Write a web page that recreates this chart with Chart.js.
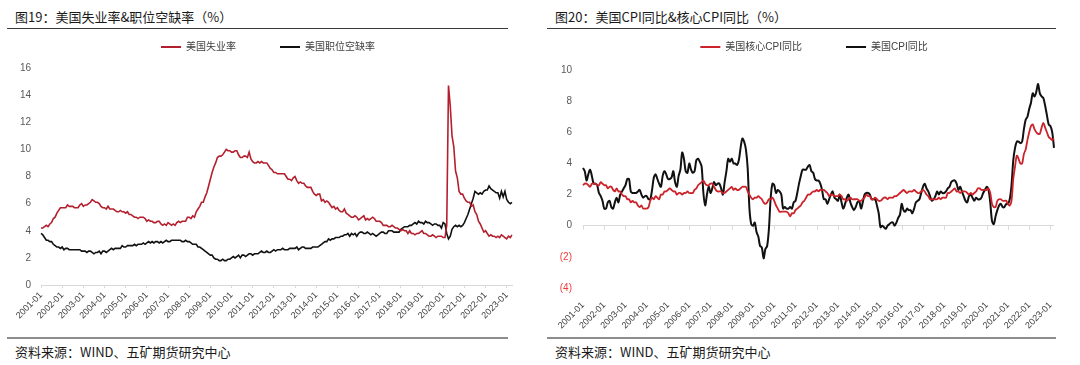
<!DOCTYPE html>
<html>
<head>
<meta charset="utf-8">
<script src="https://cdn.jsdelivr.net/npm/chart.js@4.4.1/dist/chart.umd.min.js"></script>
<style>
  html, body { margin: 0; padding: 0; background: #fff; }
  body { width: 1080px; height: 365px; position: relative; overflow: hidden;
         font-family: "Noto Sans CJK SC", "Liberation Sans", sans-serif; }
  .title { position: absolute; top: 8px; font-size: 13px; color: #1a1a1a; line-height: 18px; white-space: nowrap; }
  .foot { position: absolute; top: 343px; font-size: 13px; color: #1a1a1a; line-height: 18px; white-space: nowrap; }
  .rule-top { position: absolute; top: 28px; height: 0; border-top: 1.5px solid #3a3a3a; }
  .rule-bot { position: absolute; top: 337px; height: 0; border-top: 2px solid #8c8c8c; }
  .wrap { position: absolute; top: -2px; width: 540px; height: 335px; }
</style>
</head>
<body>
<div class="title" style="left:15px">图19：美国失业率&amp;职位空缺率（%）</div>
<div class="title" style="left:555px">图20：美国CPI同比&amp;核心CPI同比（%）</div>
<div class="rule-top" style="left:7px;width:501px"></div>
<div class="rule-top" style="left:547px;width:509px"></div>
<div class="wrap" style="left:0"><canvas id="c1"></canvas></div>
<div class="wrap" style="left:540px"><canvas id="c2"></canvas></div>
<div class="rule-bot" style="left:7px;width:501px"></div>
<div class="rule-bot" style="left:547px;width:509px"></div>
<div class="foot" style="left:15px">资料来源：WIND、五矿期货研究中心</div>
<div class="foot" style="left:555px">资料来源：WIND、五矿期货研究中心</div>
<script>
// ---------- categories ----------
function monthLabels(y0, y1, lastMonth) {
  const out = [];
  for (let y = y0; y <= y1; y++) {
    const mEnd = (y === y1) ? lastMonth : 12;
    for (let m = 1; m <= mEnd; m++) out.push(y + '-' + (m < 10 ? '0' + m : m));
  }
  return out;
}
const months1 = monthLabels(2001, 2023, 4);   // 2001-01 .. 2023-04
const months2 = monthLabels(2001, 2023, 3);   // 2001-01 .. 2023-03

// ---------- series: 美国失业率 (%) ----------
const unemployment = [
  4.2,4.2,4.3,4.4,4.3,4.5,4.6,4.9,5.0,5.3,5.5,5.7,
  5.7,5.7,5.7,5.9,5.8,5.8,5.8,5.7,5.7,5.7,5.9,6.0,
  5.8,5.9,5.9,6.0,6.1,6.3,6.2,6.1,6.1,6.0,5.8,5.7,
  5.7,5.6,5.8,5.6,5.6,5.6,5.5,5.4,5.4,5.5,5.4,5.4,
  5.3,5.4,5.2,5.2,5.1,5.0,5.0,4.9,5.0,5.0,5.0,4.9,
  4.7,4.8,4.7,4.7,4.6,4.6,4.7,4.7,4.5,4.4,4.5,4.4,
  4.6,4.5,4.4,4.5,4.4,4.6,4.7,4.6,4.7,4.7,4.7,5.0,
  5.0,4.9,5.1,5.0,5.4,5.6,5.8,6.1,6.1,6.5,6.8,7.3,
  7.8,8.3,8.7,9.0,9.4,9.5,9.5,9.6,9.8,10.0,9.9,9.9,
  9.8,9.8,9.9,9.9,9.6,9.4,9.4,9.5,9.5,9.4,9.8,9.3,
  9.1,9.0,9.0,9.1,9.0,9.1,9.0,9.0,9.0,8.8,8.6,8.5,
  8.3,8.3,8.2,8.2,8.2,8.2,8.2,8.0,7.8,7.8,7.7,7.9,
  8.0,7.7,7.5,7.6,7.5,7.5,7.3,7.2,7.2,7.2,6.9,6.7,
  6.6,6.7,6.7,6.2,6.3,6.1,6.2,6.1,5.9,5.7,5.8,5.6,
  5.7,5.5,5.4,5.4,5.6,5.3,5.2,5.1,5.0,5.0,5.1,5.0,
  4.8,4.9,5.0,5.1,4.8,4.9,4.8,4.9,5.0,4.9,4.7,4.7,
  4.7,4.6,4.4,4.4,4.4,4.3,4.3,4.4,4.3,4.2,4.2,4.1,
  4.0,4.1,4.0,4.0,3.8,4.0,3.8,3.8,3.7,3.8,3.8,3.9,
  4.0,3.8,3.8,3.7,3.6,3.6,3.7,3.6,3.5,3.6,3.6,3.6,
  3.5,3.5,4.4,14.7,13.2,11.0,10.2,8.4,7.9,6.9,6.7,6.7,
  6.4,6.2,6.1,6.1,5.8,5.9,5.4,5.2,4.7,4.5,4.2,3.9,
  4.0,3.8,3.6,3.7,3.6,3.6,3.5,3.6,3.5,3.7,3.6,3.5,
  3.4,3.6,3.5,3.7
];

// ---------- series: 美国职位空缺率 (%) ----------
const jobOpenings = [
  3.8,3.7,3.5,3.3,3.3,3.2,3.2,3.0,2.9,2.8,2.8,2.7,
  2.8,2.6,2.7,2.7,2.6,2.6,2.6,2.6,2.6,2.6,2.6,2.5,
  2.5,2.5,2.4,2.5,2.5,2.4,2.3,2.4,2.4,2.5,2.3,2.5,
  2.5,2.4,2.5,2.6,2.7,2.6,2.7,2.7,2.7,2.7,2.9,2.8,
  2.8,2.9,2.9,2.9,2.9,3.0,2.9,3.0,3.0,3.0,3.1,3.0,
  3.1,3.2,3.1,3.2,3.1,3.2,3.2,3.1,3.2,3.1,3.2,3.3,
  3.2,3.2,3.3,3.3,3.3,3.3,3.3,3.3,3.2,3.2,3.3,3.2,
  3.2,3.1,3.0,3.0,3.0,2.8,2.8,2.7,2.6,2.5,2.4,2.3,
  2.2,2.2,2.0,1.9,1.9,1.8,1.8,1.9,1.8,1.8,1.9,1.9,
  2.0,2.1,2.0,2.1,2.2,2.0,2.2,2.2,2.1,2.2,2.3,2.3,
  2.2,2.3,2.3,2.3,2.4,2.5,2.4,2.4,2.5,2.4,2.4,2.5,
  2.6,2.5,2.6,2.6,2.6,2.7,2.6,2.6,2.6,2.7,2.7,2.7,
  2.7,2.8,2.6,2.7,2.8,2.8,2.7,2.7,2.7,2.7,2.8,2.8,
  2.8,2.8,2.9,3.0,3.1,3.2,3.2,3.4,3.3,3.4,3.4,3.5,
  3.5,3.5,3.6,3.6,3.7,3.7,3.8,3.6,3.8,3.7,3.8,3.6,
  3.8,3.9,3.9,3.8,3.8,3.9,3.8,3.7,3.8,3.7,3.6,3.7,
  3.8,3.9,3.9,3.8,3.8,4.0,4.0,4.0,3.9,3.9,3.9,3.9,
  4.1,4.2,4.3,4.3,4.3,4.4,4.4,4.5,4.6,4.5,4.7,4.6,
  4.6,4.5,4.7,4.6,4.6,4.5,4.4,4.5,4.5,4.4,4.4,4.2,
  4.6,4.5,3.8,3.4,3.6,4.1,4.3,4.4,4.3,4.4,4.3,4.4,
  4.6,4.9,5.2,5.6,6.0,6.4,6.9,6.8,6.7,6.8,6.7,6.9,
  7.0,7.0,7.3,7.1,7.0,6.9,6.8,6.8,6.4,6.9,6.5,6.9,
  6.3,6.1,6.0,6.1
];

// ---------- series: 美国核心CPI同比 (%) ----------
const coreCPI = [
  2.6,2.7,2.7,2.6,2.5,2.7,2.7,2.7,2.6,2.6,2.8,2.7,
  2.6,2.6,2.4,2.5,2.5,2.3,2.2,2.4,2.2,2.2,2.0,1.9,
  1.9,1.7,1.7,1.5,1.6,1.5,1.5,1.3,1.2,1.3,1.1,1.1,
  1.1,1.2,1.6,1.8,1.7,1.9,1.8,1.7,2.0,2.0,2.2,2.2,
  2.3,2.4,2.3,2.2,2.2,2.0,2.1,2.1,2.0,2.1,2.1,2.2,
  2.1,2.1,2.1,2.3,2.4,2.6,2.7,2.8,2.9,2.7,2.6,2.6,
  2.7,2.7,2.5,2.3,2.2,2.2,2.2,2.1,2.1,2.2,2.3,2.4,
  2.5,2.3,2.4,2.3,2.3,2.4,2.5,2.5,2.5,2.2,2.0,1.8,
  1.7,1.8,1.8,1.9,1.8,1.7,1.5,1.4,1.5,1.7,1.7,1.8,
  1.6,1.3,1.1,0.9,0.9,0.9,0.9,0.9,0.8,0.6,0.8,0.8,
  1.0,1.1,1.2,1.3,1.5,1.6,1.8,2.0,2.0,2.1,2.2,2.2,
  2.3,2.2,2.3,2.3,2.3,2.2,2.1,1.9,2.0,2.0,1.9,1.9,
  1.9,2.0,1.9,1.7,1.7,1.6,1.7,1.8,1.7,1.7,1.7,1.7,
  1.6,1.6,1.7,1.8,2.0,1.9,1.9,1.7,1.7,1.8,1.7,1.6,
  1.6,1.7,1.8,1.8,1.7,1.8,1.8,1.8,1.9,1.9,2.0,2.1,
  2.2,2.3,2.2,2.1,2.2,2.2,2.2,2.3,2.2,2.1,2.1,2.2,
  2.3,2.2,2.0,1.9,1.7,1.7,1.7,1.7,1.7,1.8,1.7,1.8,
  1.8,1.8,2.1,2.1,2.2,2.3,2.4,2.2,2.2,2.1,2.2,2.2,
  2.2,2.1,2.0,2.1,2.0,2.1,2.2,2.4,2.4,2.3,2.3,2.3,
  2.3,2.4,2.1,1.4,1.2,1.2,1.6,1.7,1.7,1.6,1.6,1.6,
  1.4,1.3,1.6,3.0,3.8,4.5,4.3,4.0,4.0,4.6,4.9,5.5,
  6.0,6.4,6.5,6.2,6.0,5.9,5.9,6.3,6.6,6.3,6.0,5.7,
  5.6,5.5,5.6
];

// ---------- series: 美国CPI同比 (%) ----------
const headlineCPI = [
  3.7,3.5,2.9,3.3,3.6,3.2,2.7,2.7,2.6,2.1,1.9,1.6,
  1.1,1.1,1.5,1.6,1.2,1.1,1.5,1.8,1.5,2.0,2.2,2.4,
  2.6,3.0,3.0,2.2,2.1,2.1,2.1,2.2,2.3,2.0,1.8,1.9,
  1.9,1.7,1.7,2.3,3.1,3.3,3.0,2.7,2.5,3.2,3.5,3.3,
  3.0,3.0,3.1,3.5,2.8,2.5,3.2,3.6,4.7,4.3,3.5,3.4,
  4.0,3.6,3.4,3.5,4.2,4.3,4.1,3.8,2.1,1.3,2.0,2.5,
  2.1,2.4,2.8,2.6,2.7,2.7,2.4,2.0,2.8,3.5,4.3,4.1,
  4.3,4.0,4.0,3.9,4.2,5.0,5.6,5.4,4.9,3.7,1.1,0.1,
  0.0,0.2,-0.4,-0.7,-1.3,-1.4,-2.1,-1.5,-1.3,-0.2,1.8,2.7,
  2.6,2.1,2.3,2.2,2.0,1.1,1.2,1.1,1.1,1.2,1.1,1.5,
  1.6,2.1,2.7,3.2,3.6,3.6,3.6,3.8,3.9,3.5,3.4,3.0,
  2.9,2.9,2.7,2.3,1.7,1.7,1.4,1.7,2.0,2.2,1.8,1.7,
  1.6,2.0,1.5,1.1,1.4,1.8,2.0,1.5,1.2,1.0,1.2,1.5,
  1.6,1.1,1.5,2.0,2.1,2.1,2.0,1.7,1.7,1.7,1.3,0.8,
  -0.1,0.0,-0.1,-0.2,0.0,0.1,0.2,0.2,0.0,0.2,0.5,0.7,
  1.4,1.0,0.9,1.1,1.0,1.0,0.8,1.1,1.5,1.6,1.7,2.1,
  2.5,2.7,2.4,2.2,1.9,1.6,1.7,1.9,2.2,2.0,2.2,2.1,
  2.1,2.2,2.4,2.5,2.8,2.9,2.9,2.7,2.3,2.5,2.2,1.9,
  1.6,1.5,1.9,2.0,1.8,1.6,1.8,1.7,1.7,1.8,2.1,2.3,
  2.5,2.3,1.5,0.3,0.1,0.6,1.0,1.3,1.4,1.2,1.2,1.4,
  1.4,1.7,2.6,4.2,5.0,5.4,5.4,5.3,5.4,6.2,6.8,7.0,
  7.5,7.9,8.5,8.3,8.6,9.1,8.5,8.3,8.2,7.7,7.1,6.5,
  6.4,6.0,5.0
];

// ---------- y-axis ticks ----------
const yTicks1 = { min: 0, max: 16, step: 2 };
const yTicks2 = { min: -4, max: 10, step: 2 };

Chart.defaults.font.family = "'Liberation Sans', 'Noto Sans CJK SC', sans-serif";
Chart.defaults.animation = false;

// fixes legend block height and nudges it horizontally
function legendPlugin(h, dx) {
  return {
    id: 'legendTune',
    beforeInit(chart) {
      const lg = chart.legend;
      const orig = lg.fit;
      lg.fit = function () { orig.call(this); this.height = h; };
    },
    afterLayout(chart) {
      chart.legend.left += dx;
      chart.legend.right += dx;
    }
  };
}

const zeroTicksPlugin = {
  id: 'zeroTicks',
  beforeDatasetsDraw(chart) {
    const xs = chart.scales.x, ys = chart.scales.y;
    const y0 = ys.getPixelForValue(0);
    const ctx = chart.ctx;
    ctx.save();
    ctx.strokeStyle = '#d9d9d9';
    ctx.lineWidth = 1;
    xs.ticks.forEach((t, i) => {
      const x = Math.round(xs.getPixelForTick(i)) + 0.5;
      ctx.beginPath(); ctx.moveTo(x, y0); ctx.lineTo(x, y0 + 4); ctx.stroke();
    });
    ctx.restore();
  }
};

function yearTicksOnly(labels) {
  return function (scale) {
    scale.ticks = scale.ticks.filter(t => labels[t.value].endsWith('-01'));
  };
}

const legendOpts = {
  position: 'top',
  labels: {
    boxWidth: 20, boxHeight: 2, padding: 44,
    color: '#404040',
    font: { size: 10, family: "'Liberation Sans', 'Noto Sans CJK SC', sans-serif" },
    generateLabels(chart) {
      const items = Chart.defaults.plugins.legend.labels.generateLabels(chart);
      items.forEach(it => { it.lineWidth = 0; it.strokeStyle = 'rgba(0,0,0,0)'; });
      return items;
    }
  }
};

// ---------- chart 1 ----------
new Chart(document.getElementById('c1'), {
  type: 'line',
  data: {
    labels: months1,
    datasets: [
      { label: '美国失业率', data: unemployment, borderColor: '#b41f2d', backgroundColor: '#b41f2d',
        borderWidth: 1.6, pointRadius: 0, tension: 0 },
      { label: '美国职位空缺率', data: jobOpenings, borderColor: '#111111', backgroundColor: '#111111',
        borderWidth: 1.6, pointRadius: 0, tension: 0 }
    ]
  },
  options: {
    responsive: true, maintainAspectRatio: false,
    layout: { padding: { left: 0, right: 28, top: 0, bottom: 0 } },
    plugins: { legend: legendOpts, tooltip: { enabled: false } },
    scales: {
      x: {
        type: 'category', offset: false,
        afterBuildTicks: yearTicksOnly(months1),
        afterFit: s => { s.height = 48; },
        grid: { display: true, drawOnChartArea: false, drawTicks: true, tickLength: 3, color: '#d9d9d9' },
        border: { display: true, color: '#d9d9d9', width: 1 },
        ticks: { autoSkip: false, minRotation: 45, maxRotation: 45, padding: 2, color: '#404040',
                 font: { size: 9 } }
      },
      y: {
        min: yTicks1.min, max: yTicks1.max,
        afterFit: s => { s.width = 41; },
        grid: { display: false, drawTicks: false },
        border: { display: false },
        ticks: { stepSize: yTicks1.step, padding: 10, color: '#595959', font: { size: 10 } }
      }
    }
  },
  plugins: [legendPlugin(70, 12)]
});

// ---------- chart 2 ----------
new Chart(document.getElementById('c2'), {
  type: 'line',
  data: {
    labels: months2,
    datasets: [
      { label: '美国核心CPI同比', data: coreCPI, borderColor: '#cc2229', backgroundColor: '#cc2229',
        borderWidth: 1.8, pointRadius: 0, tension: 0.3 },
      { label: '美国CPI同比', data: headlineCPI, borderColor: '#111111', backgroundColor: '#111111',
        borderWidth: 2, pointRadius: 0, tension: 0.3 }
    ]
  },
  options: {
    responsive: true, maintainAspectRatio: false,
    layout: { padding: { left: 0, right: 26, top: 0, bottom: 0 } },
    plugins: { legend: legendOpts, tooltip: { enabled: false } },
    scales: {
      x: {
        type: 'category', offset: false,
        afterBuildTicks: yearTicksOnly(months2),
        afterFit: s => { s.height = 45; },
        grid: { display: false },
        border: { display: false },
        ticks: { autoSkip: false, minRotation: 45, maxRotation: 45, padding: 4, color: '#404040',
                 font: { size: 9 } }
      },
      y: {
        min: yTicks2.min, max: yTicks2.max,
        afterFit: s => { s.width = 43; },
        grid: { display: true, drawTicks: false, lineWidth: 1,
                color: c => (c.tick && c.tick.value === 0) ? '#d9d9d9' : 'rgba(0,0,0,0)' },
        border: { display: false },
        ticks: { stepSize: yTicks2.step, padding: 11, font: { size: 10 },
                 color: c => (c.tick && c.tick.value < 0) ? '#f03a3a' : '#595959',
                 callback: v => v < 0 ? '(' + (-v) + ')' : String(v) }
      }
    }
  },
  plugins: [legendPlugin(72, 17), zeroTicksPlugin]
});
</script>
</body>
</html>
